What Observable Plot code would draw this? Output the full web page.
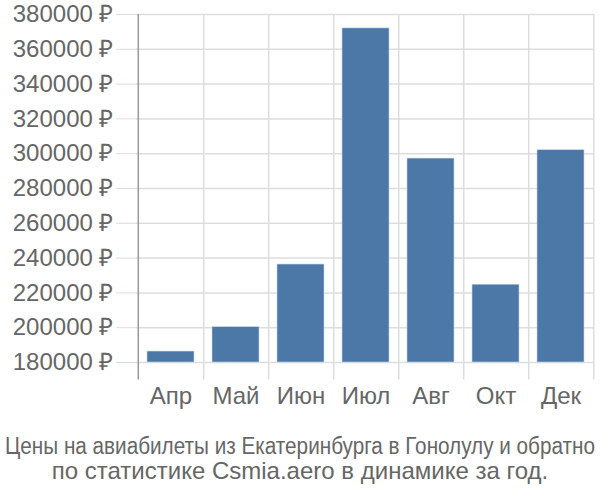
<!DOCTYPE html>
<html>
<head>
<meta charset="utf-8">
<script src="https://cdn.jsdelivr.net/npm/d3@7"></script>
<script src="https://cdn.jsdelivr.net/npm/@observablehq/plot@0.6"></script>
<style>
  html, body { margin: 0; padding: 0; background: #fff; }
  body { width: 600px; height: 500px; overflow: hidden; font-family: "Liberation Sans", Arial, sans-serif; }
  [aria-label="y-axis tick"] { stroke: #dddddd; }
</style>
</head>
<body>
<div id="chart"></div>
<script>
const months = ["Апр", "Май", "Июн", "Июл", "Авг", "Окт", "Дек"];
const prices = [186300, 200300, 236300, 372000, 297200, 224700, 302000];
const yTicks = [180000, 200000, 220000, 240000, 260000, 280000, 300000, 320000, 340000, 360000, 380000];
const captionLines = [
  "Цены на авиабилеты из Екатеринбурга в Гонолулу и обратно",
  "по статистике Csmia.aero в динамике за год."
];

const data = months.map((m, i) => ({month: m, price: prices[i]}));

const W = 600, H = 420, mL = 136, mR = 6, mT = 14, mB = 40.6;
const half = (W - mL - mR) / months.length / 2;
const yMin = 170000, yMax = 380000, base = 180000;

const chart = Plot.plot({
  width: W,
  height: H,
  marginLeft: mL,
  marginRight: mR,
  marginTop: mT,
  marginBottom: mB,
  style: {fontFamily: '"Liberation Sans", Arial, sans-serif', fontSize: "24px", color: "#666", background: "#fff", overflow: "visible"},
  x: {domain: months, paddingInner: 0.28, paddingOuter: 0.14, label: null},
  y: {domain: [yMin, yMax], label: null},
  marks: [
    Plot.ruleY(yTicks, {y: d => d, stroke: "#dddddd", strokeWidth: 1.5}),
    Plot.ruleX(months, {x: d => d, dx: half, y1: yMin, y2: yMax, stroke: "#dddddd", strokeWidth: 1.5}),
    Plot.barY(data, {x: "month", y1: base, y2: "price", fill: "#4c78a8", stroke: "#c5d3e6", strokeWidth: 0.6}),
    Plot.ruleX([months[0]], {x: d => d, dx: -half, y1: yMin, y2: yMax, stroke: "#999999", strokeWidth: 1.5}),
    Plot.axisY(yTicks, {tickSize: 20, tickPadding: 3, tickFormat: d => d + " ₽", fill: "#666", fontSize: 24}),
    Plot.axisX({tickSize: 0, tickPadding: 7, fill: "#666", fontSize: 24})
  ]
});
document.getElementById("chart").appendChild(chart);

// caption
const ns = "http://www.w3.org/2000/svg";
const cap = document.createElementNS(ns, "svg");
cap.setAttribute("width", 600);
cap.setAttribute("height", 80);
cap.style.display = "block";
const capY = [28, 53];
const capSize = [23, 24];
captionLines.forEach((t, i) => {
  const el = document.createElementNS(ns, "text");
  el.setAttribute("x", 300);
  el.setAttribute("y", capY[i]);
  el.setAttribute("text-anchor", "middle");
  el.setAttribute("dominant-baseline", "middle");
  el.setAttribute("fill", "#666");
  el.setAttribute("font-family", '"Liberation Sans", Arial, sans-serif');
  el.setAttribute("font-size", capSize[i]);
  el.textContent = t;
  cap.appendChild(el);
});
document.getElementById("chart").appendChild(cap);
const first = cap.querySelector("text");
if (first.getComputedTextLength() > 590) {
  first.setAttribute("textLength", 590);
  first.setAttribute("lengthAdjust", "spacingAndGlyphs");
}
</script>
</body>
</html>
